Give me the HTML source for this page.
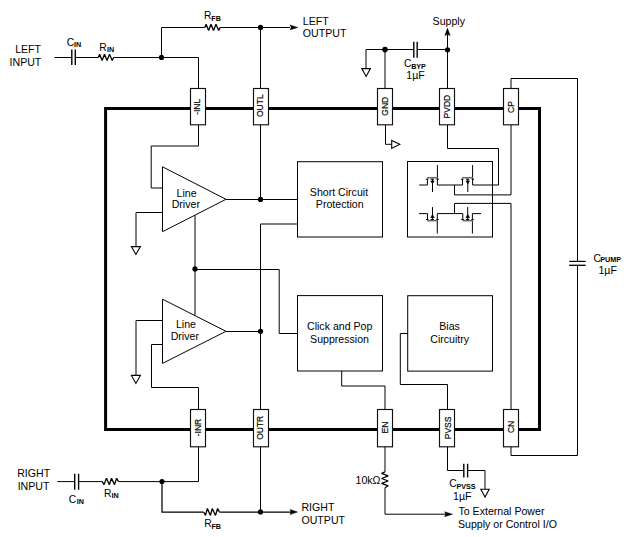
<!DOCTYPE html>
<html><head><meta charset="utf-8"><title>Block Diagram</title>
<style>
html,body{margin:0;padding:0;background:#fff;}
body{width:638px;height:537px;overflow:hidden;}
svg{display:block;font-family:"Liberation Sans",sans-serif;fill:#000;}
</style></head><body>
<svg width="638" height="537" viewBox="0 0 638 537">
<rect x="0" y="0" width="638" height="537" fill="#fff"/>
<rect x="105.6" y="108.5" width="433.9" height="321" fill="none" stroke="#000" stroke-width="3"/>
<line x1="54.6" y1="57.5" x2="71.8" y2="57.5" stroke="#000" stroke-width="1"/>
<line x1="75.3" y1="57.5" x2="98.3" y2="57.5" stroke="#000" stroke-width="1"/>
<line x1="71.8" y1="49.4" x2="71.8" y2="65.1" stroke="#000" stroke-width="1.4"/>
<line x1="75.3" y1="49.4" x2="75.3" y2="65.1" stroke="#000" stroke-width="1.4"/>
<polyline points="98.3,57.5 99.6,54.2 102.1,60.5 104.5,54.2 107,60.5 109.5,54.2 112.2,60.5 113.6,57.5" fill="none" stroke="#000" stroke-width="1.3" stroke-linejoin="miter" stroke-miterlimit="1.6"/>
<line x1="113.6" y1="57.5" x2="198.5" y2="57.5" stroke="#000" stroke-width="1"/>
<line x1="198.5" y1="57.5" x2="198.5" y2="88.5" stroke="#000" stroke-width="1"/>
<line x1="161.5" y1="57.5" x2="161.5" y2="27.5" stroke="#000" stroke-width="1"/>
<line x1="161.5" y1="27.5" x2="204.8" y2="27.5" stroke="#000" stroke-width="1"/>
<polyline points="204.8,27.5 206.1,24.2 208.6,30.5 211,24.2 213.5,30.5 216,24.2 218.7,30.5 220.1,27.5" fill="none" stroke="#000" stroke-width="1.3" stroke-linejoin="miter" stroke-miterlimit="1.6"/>
<line x1="220.1" y1="27.5" x2="290" y2="27.5" stroke="#000" stroke-width="1"/>
<polygon points="290,24.9 297.8,27.4 290,29.9 291.2,27.4" fill="#000" stroke="#000" stroke-width="0.4"/>
<circle cx="161.5" cy="57.4" r="2.6" fill="#000"/>
<circle cx="260.5" cy="27.4" r="2.6" fill="#000"/>
<line x1="260.5" y1="27.5" x2="260.5" y2="88.5" stroke="#000" stroke-width="1"/>
<line x1="366" y1="49.5" x2="447.5" y2="49.5" stroke="#000" stroke-width="1"/>
<line x1="366" y1="49.5" x2="366" y2="68.3" stroke="#000" stroke-width="1"/>
<polygon points="361.8,68.6 370.4,68.6 366.1,76.4" fill="#fff" stroke="#000" stroke-width="1.1"/>
<line x1="385" y1="49.5" x2="385" y2="88.5" stroke="#000" stroke-width="1"/>
<circle cx="385" cy="49.6" r="2.8" fill="#000"/>
<rect x="414" y="40" width="3" height="20" fill="#fff"/>
<line x1="413.8" y1="41.8" x2="413.8" y2="57.7" stroke="#000" stroke-width="1.4"/>
<line x1="417.2" y1="41.8" x2="417.2" y2="57.7" stroke="#000" stroke-width="1.4"/>
<line x1="447.5" y1="49.5" x2="447.5" y2="88.5" stroke="#000" stroke-width="1"/>
<line x1="447.5" y1="49.5" x2="447.5" y2="34.5" stroke="#000" stroke-width="1"/>
<polygon points="444.8,35.6 447.5,28.1 450.2,35.6 447.5,34.4" fill="#000" stroke="#000" stroke-width="0.4"/>
<circle cx="447.5" cy="49.8" r="2.6" fill="#000"/>
<polyline points="511,88.5 511,78.5 577.5,78.5 577.5,261.4" fill="none" stroke="#000" stroke-width="1" stroke-linejoin="miter"/>
<line x1="569.2" y1="261.4" x2="585.7" y2="261.4" stroke="#000" stroke-width="1.2"/>
<line x1="569.2" y1="265.3" x2="585.7" y2="265.3" stroke="#000" stroke-width="1.3"/>
<polyline points="577.5,265.3 577.5,455.5 511,455.5 511,446" fill="none" stroke="#000" stroke-width="1" stroke-linejoin="miter"/>
<polyline points="198.5,124.5 198.5,146 151.2,146 151.2,188 162.5,188" fill="none" stroke="#000" stroke-width="1" stroke-linejoin="miter"/>
<polyline points="162.5,212.5 136,212.5 136,246.4" fill="none" stroke="#000" stroke-width="1" stroke-linejoin="miter"/>
<polygon points="131.4,246.6 140.4,246.6 135.9,254.4" fill="#fff" stroke="#000" stroke-width="1.1"/>
<polygon points="162.5,166.8 162.5,231.7 226,199.3" fill="#fff" stroke="#000" stroke-width="1"/>
<line x1="226" y1="199.5" x2="297" y2="199.5" stroke="#000" stroke-width="1"/>
<circle cx="260.5" cy="199.4" r="2.6" fill="#000"/>
<line x1="260.5" y1="124.5" x2="260.5" y2="199.5" stroke="#000" stroke-width="1"/>
<polyline points="297.5,224 260.5,224 260.5,409.5" fill="none" stroke="#000" stroke-width="1" stroke-linejoin="miter"/>
<circle cx="260.5" cy="331.3" r="2.6" fill="#000"/>
<line x1="226" y1="331.5" x2="260.5" y2="331.5" stroke="#000" stroke-width="1"/>
<line x1="195" y1="215.4" x2="195" y2="315" stroke="#000" stroke-width="1"/>
<circle cx="195" cy="268.9" r="2.6" fill="#000"/>
<polyline points="195,269.5 279.2,269.5 279.2,333.5 297.5,333.5" fill="none" stroke="#000" stroke-width="1" stroke-linejoin="miter"/>
<polyline points="162.5,320.5 136,320.5 136,375.2" fill="none" stroke="#000" stroke-width="1" stroke-linejoin="miter"/>
<polygon points="131.4,375.4 140.4,375.4 135.9,383.4" fill="#fff" stroke="#000" stroke-width="1.1"/>
<polyline points="162.5,344.5 151.5,344.5 151.5,387.5 198.5,387.5 198.5,409.5" fill="none" stroke="#000" stroke-width="1" stroke-linejoin="miter"/>
<polygon points="162.5,299.2 162.5,363.4 226,331.3" fill="#fff" stroke="#000" stroke-width="1"/>
<rect x="297.5" y="161.7" width="85" height="75.3" fill="#fff" stroke="#000" stroke-width="1"/>
<rect x="297.5" y="295.6" width="85" height="75.4" fill="#fff" stroke="#000" stroke-width="1"/>
<rect x="407.7" y="295.7" width="84.8" height="75.4" fill="#fff" stroke="#000" stroke-width="1"/>
<rect x="407.5" y="161.5" width="85" height="75.5" fill="#fff" stroke="#000" stroke-width="1"/>
<polyline points="341.7,371 341.7,386 385,386 385,409.5" fill="none" stroke="#000" stroke-width="1" stroke-linejoin="miter"/>
<polyline points="407.7,333.5 400.3,333.5 400.3,384.5 447.5,384.5 447.5,409.5" fill="none" stroke="#000" stroke-width="1" stroke-linejoin="miter"/>
<polyline points="385.5,124.5 385.5,144.3 391.5,144.3" fill="none" stroke="#000" stroke-width="1" stroke-linejoin="miter"/>
<polygon points="391.7,140.4 399.8,144.3 391.7,148.4" fill="#fff" stroke="#000" stroke-width="1.1"/>
<polyline points="447.5,124.5 447.5,148.5 498.5,148.5 498.5,185 472.6,185" fill="none" stroke="#000" stroke-width="1" stroke-linejoin="miter"/>
<polyline points="511,124.5 511,194.9 454.5,194.9 454.5,185" fill="none" stroke="#000" stroke-width="1" stroke-linejoin="miter"/>
<polyline points="511,409.5 511,203.4 454.5,203.4 454.5,213.6" fill="none" stroke="#000" stroke-width="1" stroke-linejoin="miter"/>
<polyline points="419.2,185 427.4,185" fill="none" stroke="#000" stroke-width="1" stroke-linejoin="miter"/>
<line x1="437.4" y1="185" x2="462.5" y2="185" stroke="#000" stroke-width="1"/>
<line x1="427.4" y1="185" x2="427.4" y2="179.2" stroke="#000" stroke-width="1"/>
<line x1="437.4" y1="165.1" x2="437.4" y2="185" stroke="#000" stroke-width="1"/>
<line x1="432.5" y1="179.2" x2="432.5" y2="192" stroke="#000" stroke-width="1"/>
<line x1="427.0" y1="177.7" x2="437.79999999999995" y2="177.7" stroke="#6a6a6a" stroke-width="1.5"/>
<line x1="425.79999999999995" y1="179.2" x2="428.4" y2="179.2" stroke="#000" stroke-width="1.0"/>
<line x1="430.7" y1="179.2" x2="434.0" y2="179.2" stroke="#000" stroke-width="1.0"/>
<line x1="436.4" y1="179.2" x2="438.79999999999995" y2="179.2" stroke="#000" stroke-width="1.0"/>
<polygon points="430.7,180.9 434.2,180.9 432.45,183.7" fill="#000" stroke="#000" stroke-width="0.7"/>
<line x1="462.5" y1="185" x2="462.5" y2="179.2" stroke="#000" stroke-width="1"/>
<line x1="472.6" y1="165.1" x2="472.6" y2="185" stroke="#000" stroke-width="1"/>
<line x1="467.8" y1="179.2" x2="467.8" y2="192" stroke="#000" stroke-width="1"/>
<line x1="462.1" y1="177.7" x2="473.0" y2="177.7" stroke="#6a6a6a" stroke-width="1.5"/>
<line x1="460.9" y1="179.2" x2="463.5" y2="179.2" stroke="#000" stroke-width="1.0"/>
<line x1="466.0" y1="179.2" x2="469.3" y2="179.2" stroke="#000" stroke-width="1.0"/>
<line x1="471.6" y1="179.2" x2="474.0" y2="179.2" stroke="#000" stroke-width="1.0"/>
<polygon points="466.0,180.9 469.5,180.9 467.75,183.7" fill="#000" stroke="#000" stroke-width="0.7"/>
<line x1="419.1" y1="213.6" x2="427.5" y2="213.6" stroke="#000" stroke-width="1"/>
<line x1="437.3" y1="213.6" x2="462.8" y2="213.6" stroke="#000" stroke-width="1"/>
<line x1="472.4" y1="213.6" x2="481" y2="213.6" stroke="#000" stroke-width="1"/>
<line x1="427.5" y1="213.6" x2="427.5" y2="219.5" stroke="#000" stroke-width="1"/>
<line x1="437.3" y1="233.5" x2="437.3" y2="213.6" stroke="#000" stroke-width="1"/>
<line x1="432.5" y1="207.1" x2="432.5" y2="219.5" stroke="#000" stroke-width="1"/>
<line x1="427.1" y1="220.7" x2="437.7" y2="220.7" stroke="#6a6a6a" stroke-width="1.5"/>
<line x1="425.9" y1="219.5" x2="428.5" y2="219.5" stroke="#000" stroke-width="1.0"/>
<line x1="430.7" y1="219.5" x2="434.0" y2="219.5" stroke="#000" stroke-width="1.0"/>
<line x1="436.3" y1="219.5" x2="438.7" y2="219.5" stroke="#000" stroke-width="1.0"/>
<polygon points="430.8,217.6 434.2,217.6 432.5,214.6" fill="#000" stroke="#000" stroke-width="0.7"/>
<line x1="462.8" y1="213.6" x2="462.8" y2="219.5" stroke="#000" stroke-width="1"/>
<line x1="472.4" y1="233.5" x2="472.4" y2="213.6" stroke="#000" stroke-width="1"/>
<line x1="467.7" y1="207.1" x2="467.7" y2="219.5" stroke="#000" stroke-width="1"/>
<line x1="462.40000000000003" y1="220.7" x2="472.79999999999995" y2="220.7" stroke="#6a6a6a" stroke-width="1.5"/>
<line x1="461.2" y1="219.5" x2="463.8" y2="219.5" stroke="#000" stroke-width="1.0"/>
<line x1="465.9" y1="219.5" x2="469.2" y2="219.5" stroke="#000" stroke-width="1.0"/>
<line x1="471.4" y1="219.5" x2="473.79999999999995" y2="219.5" stroke="#000" stroke-width="1.0"/>
<polygon points="466.0,217.6 469.5,217.6 467.75,214.6" fill="#000" stroke="#000" stroke-width="0.7"/>
<line x1="57.3" y1="481.6" x2="74.7" y2="481.6" stroke="#000" stroke-width="1"/>
<line x1="78.6" y1="481.6" x2="102.3" y2="481.6" stroke="#000" stroke-width="1"/>
<line x1="74.7" y1="473.8" x2="74.7" y2="489.8" stroke="#000" stroke-width="1.4"/>
<line x1="78.6" y1="473.8" x2="78.6" y2="489.8" stroke="#000" stroke-width="1.4"/>
<polyline points="102.3,481.6 104.1,484.6 106.4,478.3 109.4,484.6 111.5,478.3 114.5,484.6 116.6,478.3 118.6,481.6" fill="none" stroke="#000" stroke-width="1.3" stroke-linejoin="miter" stroke-miterlimit="1.6"/>
<line x1="118.6" y1="481.6" x2="198.5" y2="481.6" stroke="#000" stroke-width="1"/>
<line x1="198.5" y1="481.6" x2="198.5" y2="446" stroke="#000" stroke-width="1"/>
<circle cx="162" cy="481.5" r="2.6" fill="#000"/>
<polyline points="162,481.6 162,512 203.7,512" fill="none" stroke="#000" stroke-width="1.25" stroke-linejoin="miter" stroke-miterlimit="1.6"/>
<polyline points="203.7,512 205.5,515.4 207.4,508.5 210.4,515.4 212.3,508.5 215.5,515.4 217.6,508.5 219.4,512" fill="none" stroke="#000" stroke-width="1.3" stroke-linejoin="miter" stroke-miterlimit="1.6"/>
<line x1="219.4" y1="512" x2="291" y2="512" stroke="#000" stroke-width="1.25"/>
<polygon points="290,509.4 297.6,512 290,514.6 291.2,512" fill="#000" stroke="#000" stroke-width="0.4"/>
<circle cx="260.5" cy="511.9" r="2.6" fill="#000"/>
<line x1="260.5" y1="446" x2="260.5" y2="512" stroke="#000" stroke-width="1"/>
<line x1="385" y1="446" x2="385" y2="471.8" stroke="#000" stroke-width="1"/>
<polyline points="385,471.8 381.6,473.3 388.2,475.9 381.6,478.5 388.2,481 381.6,483.4 388.2,485.8 385,487.8" fill="none" stroke="#000" stroke-width="1.3" stroke-linejoin="miter" stroke-miterlimit="1.6"/>
<polyline points="385,487.8 385,514.2 446,514.2" fill="none" stroke="#000" stroke-width="1" stroke-linejoin="miter"/>
<polygon points="444.6,511.7 452.6,514.2 444.6,516.7 445.8,514.2" fill="#000" stroke="#000" stroke-width="0.4"/>
<polyline points="447.5,446 447.5,470.5 463.8,470.5" fill="none" stroke="#000" stroke-width="1" stroke-linejoin="miter"/>
<line x1="463.8" y1="463.8" x2="463.8" y2="477.5" stroke="#000" stroke-width="1.4"/>
<line x1="467.6" y1="463.8" x2="467.6" y2="477.5" stroke="#000" stroke-width="1.4"/>
<polyline points="467.6,470.5 485,470.5 485,489" fill="none" stroke="#000" stroke-width="1" stroke-linejoin="miter"/>
<polygon points="480.8,489.2 489.2,489.2 485,497" fill="#fff" stroke="#000" stroke-width="1.1"/>
<rect x="190.5" y="88.5" width="15" height="36.3" fill="#fff" stroke="#111" stroke-width="1.15"/>
<rect x="253.5" y="88.5" width="15" height="36.3" fill="#fff" stroke="#111" stroke-width="1.15"/>
<rect x="377.5" y="88.5" width="15" height="36.3" fill="#fff" stroke="#111" stroke-width="1.15"/>
<rect x="439.5" y="88.5" width="15" height="36.3" fill="#fff" stroke="#111" stroke-width="1.15"/>
<rect x="503.5" y="88.5" width="15" height="36.3" fill="#fff" stroke="#111" stroke-width="1.15"/>
<rect x="190.5" y="409.5" width="15" height="37.3" fill="#fff" stroke="#111" stroke-width="1.15"/>
<rect x="253.5" y="409.5" width="15" height="37.3" fill="#fff" stroke="#111" stroke-width="1.15"/>
<rect x="377.5" y="409.5" width="15" height="37.3" fill="#fff" stroke="#111" stroke-width="1.15"/>
<rect x="439.5" y="409.5" width="15" height="37.3" fill="#fff" stroke="#111" stroke-width="1.15"/>
<rect x="503.5" y="409.5" width="15" height="37.3" fill="#fff" stroke="#111" stroke-width="1.15"/>
<text font-size="8.50" stroke="#000" stroke-width="0.18" text-anchor="middle" transform="translate(200.20,106.80) rotate(-90)">-INL</text>
<text font-size="8.50" stroke="#000" stroke-width="0.18" text-anchor="middle" transform="translate(263.25,105.70) rotate(-90)">OUTL</text>
<text font-size="8.50" stroke="#000" stroke-width="0.18" text-anchor="middle" transform="translate(387.80,106.20) rotate(-90)">GND</text>
<text font-size="8.50" stroke="#000" stroke-width="0.18" text-anchor="middle" transform="translate(449.85,106.60) rotate(-90)">PVDD</text>
<text font-size="8.50" stroke="#000" stroke-width="0.18" text-anchor="middle" transform="translate(513.95,107.10) rotate(-90)">CP</text>
<text font-size="8.50" stroke="#000" stroke-width="0.18" text-anchor="middle" transform="translate(200.70,427.50) rotate(-90)">-INR</text>
<text font-size="8.50" stroke="#000" stroke-width="0.18" text-anchor="middle" transform="translate(263.30,427.80) rotate(-90)">OUTR</text>
<text font-size="8.50" stroke="#000" stroke-width="0.18" text-anchor="middle" transform="translate(387.70,427.60) rotate(-90)">EN</text>
<text font-size="8.50" stroke="#000" stroke-width="0.18" text-anchor="middle" transform="translate(450.60,427.90) rotate(-90)">PVSS</text>
<text font-size="8.50" stroke="#000" stroke-width="0.18" text-anchor="middle" transform="translate(513.90,426.90) rotate(-90)">CN</text>
<text x="15.17" y="53.00" font-size="10.60">LEFT</text>
<text x="9.57" y="66.25" font-size="10.60">INPUT</text>
<text x="66.73" y="46.00" font-size="10.30">C</text>
<text x="74.08" y="46.70" font-size="7.20" font-weight="bold">IN</text>
<text x="99.23" y="50.75" font-size="10.30">R</text>
<text x="106.98" y="52.40" font-size="7.20" font-weight="bold">IN</text>
<text x="203.98" y="19.15" font-size="10.30">R</text>
<text x="211.28" y="21.05" font-size="7.20" font-weight="bold">FB</text>
<text x="302.82" y="24.90" font-size="10.60">LEFT</text>
<text x="302.82" y="37.10" font-size="10.60">OUTPUT</text>
<text x="432.57" y="25.25" font-size="10.60">Supply</text>
<text x="403.93" y="66.80" font-size="10.30">C</text>
<text x="411.13" y="68.55" font-size="7.20" font-weight="bold">BYP</text>
<text x="406.37" y="78.75" font-size="10.60">1µF</text>
<text x="176.57" y="196.90" font-size="10.60">Line</text>
<text x="171.67" y="208.45" font-size="10.60">Driver</text>
<text x="309.82" y="196.15" font-size="10.60">Short Circuit</text>
<text x="315.87" y="208.45" font-size="10.60">Protection</text>
<text x="175.97" y="328.25" font-size="10.60">Line</text>
<text x="170.67" y="340.45" font-size="10.60">Driver</text>
<text x="307.02" y="329.80" font-size="10.60">Click and Pop</text>
<text x="310.07" y="343.00" font-size="10.60">Suppression</text>
<text x="439.27" y="330.10" font-size="10.60">Bias</text>
<text x="430.27" y="342.80" font-size="10.60">Circuitry</text>
<text x="593.43" y="261.50" font-size="10.30">C</text>
<text x="600.33" y="261.60" font-size="7.20" font-weight="bold">PUMP</text>
<text x="598.47" y="273.70" font-size="10.60">1µF</text>
<text x="17.17" y="477.35" font-size="10.60">RIGHT</text>
<text x="17.67" y="489.70" font-size="10.60">INPUT</text>
<text x="68.78" y="502.50" font-size="10.30">C</text>
<text x="76.78" y="503.90" font-size="7.20" font-weight="bold">IN</text>
<text x="103.88" y="496.65" font-size="10.30">R</text>
<text x="111.48" y="498.10" font-size="7.20" font-weight="bold">IN</text>
<text x="204.23" y="526.55" font-size="10.30">R</text>
<text x="211.38" y="528.65" font-size="7.20" font-weight="bold">FB</text>
<text x="301.47" y="510.75" font-size="10.60">RIGHT</text>
<text x="301.47" y="524.10" font-size="10.60">OUTPUT</text>
<text x="355.52" y="483.75" font-size="10.60">10kΩ</text>
<text x="449.13" y="487.10" font-size="10.30">C</text>
<text x="456.38" y="489.10" font-size="7.20" font-weight="bold">PVSS</text>
<text x="453.12" y="499.85" font-size="10.60">1µF</text>
<text x="458.47" y="515.45" font-size="10.60">To External Power</text>
<text x="457.97" y="528.15" font-size="10.60">Supply or Control I/O</text>
</svg>
</body></html>
